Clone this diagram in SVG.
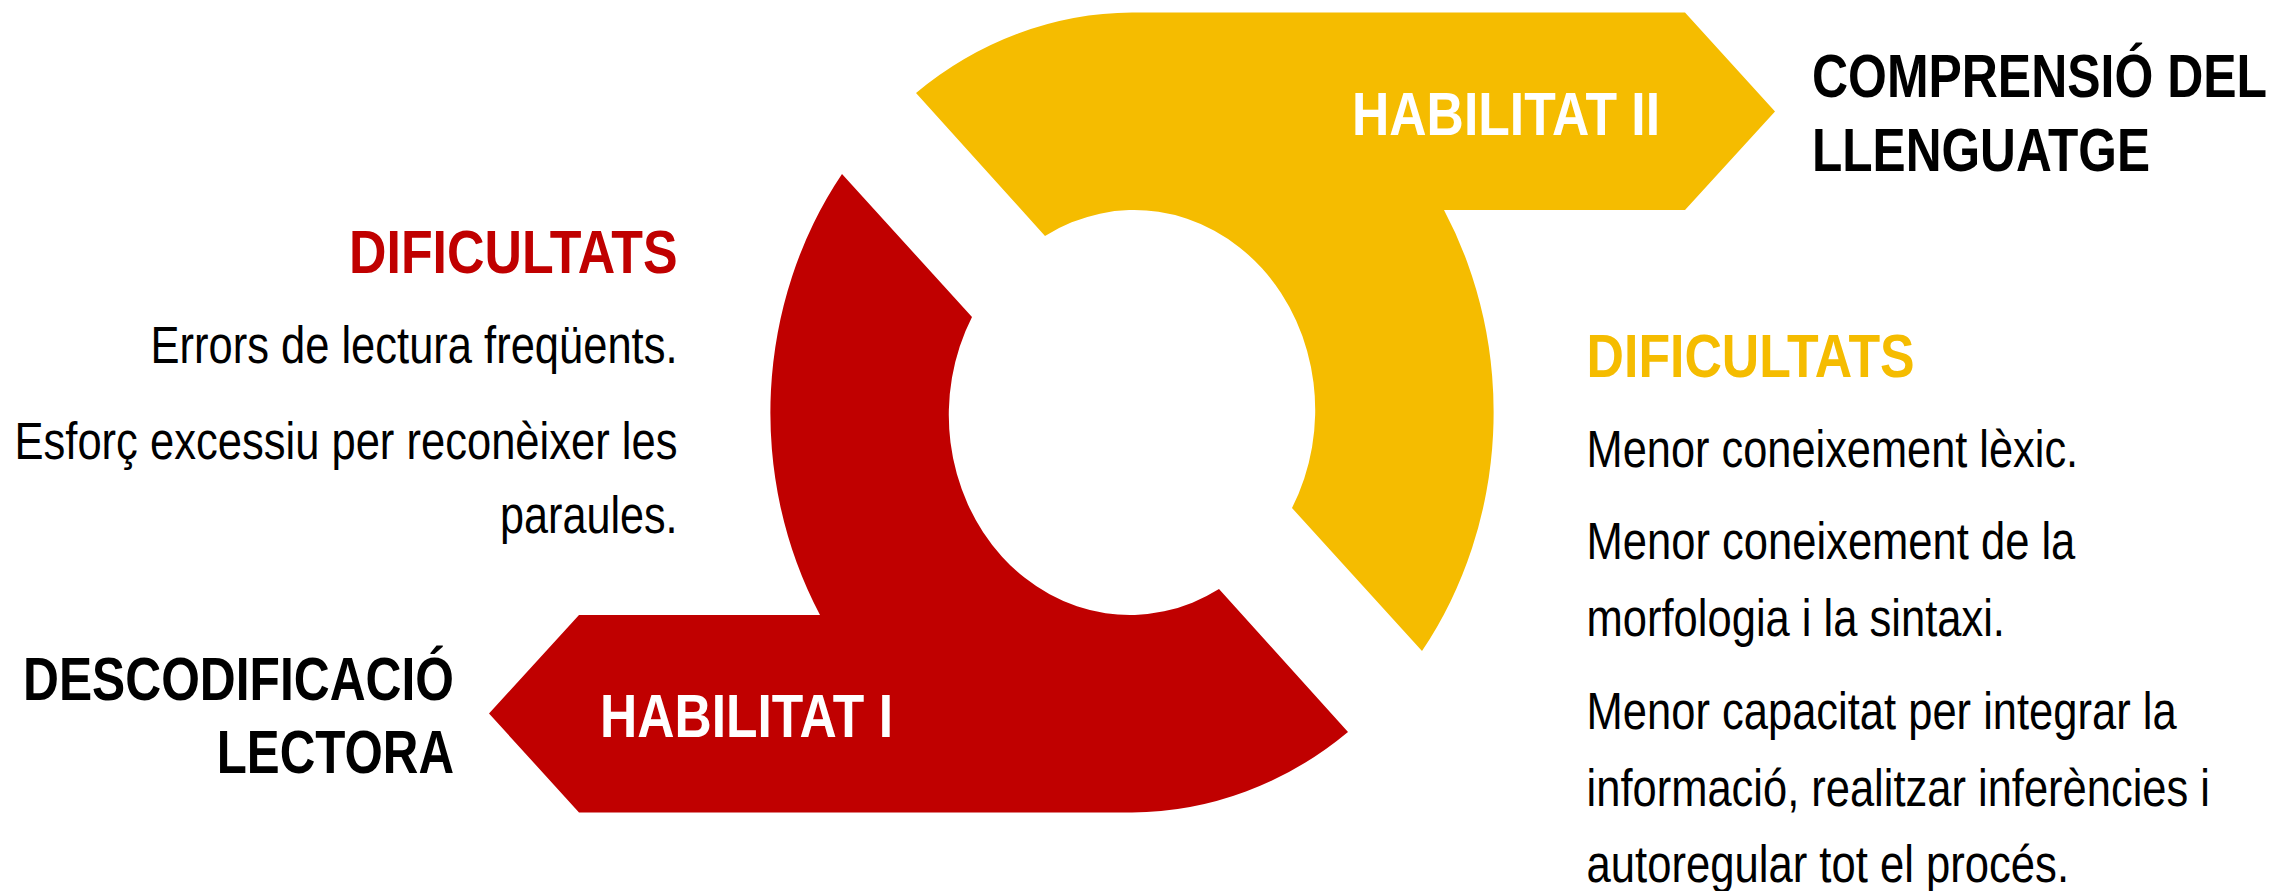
<svg xmlns="http://www.w3.org/2000/svg" width="2275" height="891" viewBox="0 0 2275 891">
<style>
  .bg{fill:#ffffff}
  .red{fill:#C00000}
  .yel{fill:#F5BC00}
  text{font-family:"Liberation Sans",Arial,sans-serif}
  .h{font-weight:bold;font-size:62px}
  .b{font-size:51px;fill:#000000}
  .w{fill:#ffffff}
  .k{fill:#000000}
  .rt{fill:#C00000}
  .yt{fill:#F5BC00}
</style>
<rect class="bg" x="0" y="0" width="2275" height="891"/>

<g id="habilitat2">
  <path class="yel" d="M 916 93 A 362 400 0 0 1 1132 12.5 L 1685 12.5 L 1775 111.5 L 1685 210 L 1444 210 A 362 400 0 0 1 1422 651 L 1292 508 A 181 200 0 0 0 1045 236 Z"/>
  <text class="h w" transform="translate(1352 135) scale(0.82 1)" x="0" y="0" textLength="375.6" lengthAdjust="spacingAndGlyphs">HABILITAT II</text>
</g>

<g id="habilitat1">
  <path class="red" d="M 1348 732 A 362 400 0 0 1 1132 812.5 L 579 812.5 L 489 713.5 L 579 615 L 820 615 A 362 400 0 0 1 842 174 L 972 317 A 181 200 0 0 0 1219 589 Z"/>
  <text class="h w" transform="translate(600 737.3) scale(0.82 1)" x="0" y="0" textLength="357.3" lengthAdjust="spacingAndGlyphs">HABILITAT I</text>
</g>

<g id="label-comprensio">
  <text class="h k" transform="translate(1812 97.3) scale(0.82 1)" x="0" y="0" textLength="554.9" lengthAdjust="spacingAndGlyphs">COMPRENSIÓ DEL</text>
  <text class="h k" transform="translate(1812 171) scale(0.82 1)" x="0" y="0" textLength="412.2" lengthAdjust="spacingAndGlyphs">LLENGUATGE</text>
</g>

<g id="label-descodificacio">
  <text class="h k" transform="translate(23 700) scale(0.82 1)" x="0" y="0" textLength="525.6" lengthAdjust="spacingAndGlyphs">DESCODIFICACIÓ</text>
  <text class="h k" transform="translate(216.7 773.3) scale(0.82 1)" x="0" y="0" textLength="289.4" lengthAdjust="spacingAndGlyphs">LECTORA</text>
</g>

<g id="dificultats1">
  <text class="h rt" transform="translate(349 273.3) scale(0.82 1)" x="0" y="0" textLength="400.7" lengthAdjust="spacingAndGlyphs">DIFICULTATS</text>
  <text class="b" transform="translate(150.5 363.3) scale(0.82 1)" x="0" y="0" textLength="642.7" lengthAdjust="spacingAndGlyphs">Errors de lectura freqüents.</text>
  <text class="b" transform="translate(14.5 459.3) scale(0.82 1)" x="0" y="0" textLength="808.5" lengthAdjust="spacingAndGlyphs">Esforç excessiu per reconèixer les</text>
  <text class="b" transform="translate(500 532.7) scale(0.82 1)" x="0" y="0" textLength="216.6" lengthAdjust="spacingAndGlyphs">paraules.</text>
</g>

<g id="dificultats2">
  <text class="h yt" transform="translate(1586.6 376.7) scale(0.82 1)" x="0" y="0" textLength="400" lengthAdjust="spacingAndGlyphs">DIFICULTATS</text>
  <text class="b" transform="translate(1586.6 466.7) scale(0.82 1)" x="0" y="0" textLength="599.4" lengthAdjust="spacingAndGlyphs">Menor coneixement lèxic.</text>
  <text class="b" transform="translate(1586.6 559.3) scale(0.82 1)" x="0" y="0" textLength="596" lengthAdjust="spacingAndGlyphs">Menor coneixement de la</text>
  <text class="b" transform="translate(1586.6 636) scale(0.82 1)" x="0" y="0" textLength="510.2" lengthAdjust="spacingAndGlyphs">morfologia i la sintaxi.</text>
  <text class="b" transform="translate(1586.6 728.7) scale(0.82 1)" x="0" y="0" textLength="719.5" lengthAdjust="spacingAndGlyphs">Menor capacitat per integrar la</text>
  <text class="b" transform="translate(1586.6 805.7) scale(0.82 1)" x="0" y="0" textLength="760.2" lengthAdjust="spacingAndGlyphs">informació, realitzar inferències i</text>
  <text class="b" transform="translate(1586.6 882) scale(0.82 1)" x="0" y="0" textLength="588.3" lengthAdjust="spacingAndGlyphs">autoregular tot el procés.</text>
</g>
</svg>
